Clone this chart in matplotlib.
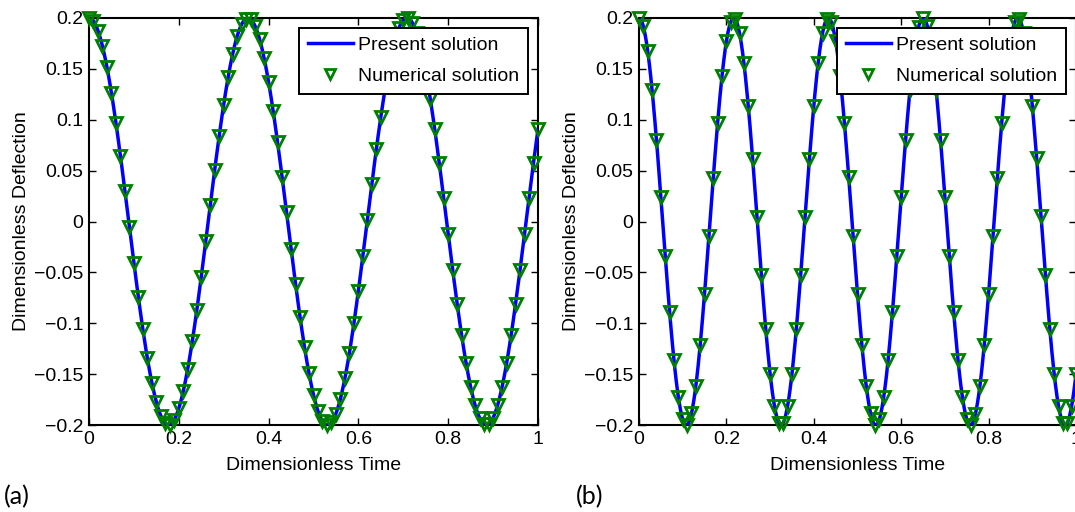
import numpy as np
import matplotlib.pyplot as plt

plt.rcParams['font.family'] = ['Liberation Sans', 'DejaVu Sans']

# values
amplitude = 0.2
peak_times_a = [0.0, 0.354, 0.708]
peak_times_b = [0.0, 0.2167, 0.4333, 0.65, 0.8667]
marker_step = 0.01
t_end = 1.0

x_ticks = [0, 0.2, 0.4, 0.6, 0.8, 1]
x_tick_labels = ['0', '0.2', '0.4', '0.6', '0.8', '1']
y_ticks = [-0.2, -0.15, -0.1, -0.05, 0, 0.05, 0.1, 0.15, 0.2]
y_tick_labels = ['-0.2', '-0.15', '-0.1', '-0.05', '0', '0.05', '0.1', '0.15', '0.2']
panel_labels = ['(a)', '(b)']


def deflection(t, peaks):
    period = np.mean(np.diff(peaks))
    return amplitude * np.cos(2 * np.pi * t / period)


def plot_panel(ax_loc, peaks):
    t_line = np.linspace(0, t_end, 600)
    t_marks = np.arange(0, t_end + marker_step / 2, marker_step)

    ax_loc.plot(t_line, deflection(t_line, peaks), color='#0000ff', lw=2.5,
                label='Present solution', zorder=3)
    ax_loc.plot(t_marks, deflection(t_marks, peaks), 'v', ms=9, mew=2.0,
                mfc='none', mec='#008000', label='Numerical solution',
                clip_on=False, zorder=4)

    ax_loc.set_xlim(0, 1)
    ax_loc.set_ylim(-0.2, 0.2)
    ax_loc.set_xticks(x_ticks)
    ax_loc.set_xticklabels(x_tick_labels)
    ax_loc.set_yticks(y_ticks)
    ax_loc.set_yticklabels([s.replace('-', '\u2212') for s in y_tick_labels])
    ax_loc.tick_params(direction='in', length=5, width=1, top=True, right=True,
                       labelsize=14, pad=4)
    for sp in ax_loc.spines.values():
        sp.set_linewidth(1.5)
    ax_loc.set_xlabel('Dimensionless Time', fontsize=14, labelpad=7)
    ax_loc.set_ylabel('Dimensionless Deflection', fontsize=14, labelpad=3)

    leg = ax_loc.legend(loc='upper right', fontsize=14, fancybox=False,
                        framealpha=1, edgecolor='black', borderpad=0.45,
                        labelspacing=0.7, handlelength=2.3, handletextpad=0.3,
                        borderaxespad=0.5, markerscale=0.85)
    leg.get_frame().set_linewidth(1.4)
    return ax_loc


fig = plt.figure(figsize=(10.75, 5.12), dpi=100)
ax_a = fig.add_axes([89 / 1075, 87 / 512, 449 / 1075, 407 / 512])
ax_b = fig.add_axes([639 / 1075, 87 / 512, 437 / 1075, 407 / 512])

plot_panel(ax_a, peak_times_a)
plot_panel(ax_b, peak_times_b)

fig.text(0.004, 0.015, panel_labels[0], fontsize=18, family=['Lato', 'DejaVu Sans'])
fig.text(0.536, 0.015, panel_labels[1], fontsize=18, family=['Lato', 'DejaVu Sans'])

fig.savefig('out.png', dpi=100)
